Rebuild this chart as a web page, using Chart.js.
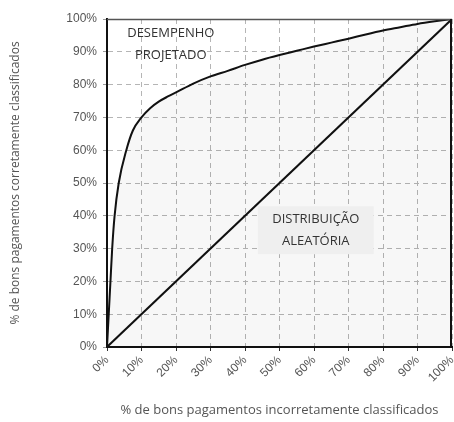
<!doctype html>
<html lang="pt">
  <head>
    <meta charset="UTF-8">
    <title>Curva de desempenho</title>
    <script src="https://cdn.jsdelivr.net/npm/chart.js@4.4.1/dist/chart.umd.min.js"></script>
    <style>
      html, body { margin: 0; padding: 0; background: #fff; }
      #wrap { width: 454px; height: 422px; }
    </style>
  </head>
  <body>
    <div id="wrap"><canvas id="myChart"></canvas></div>
    <script>
    // Data-----
    const xTicks = [0, 10, 20, 30, 40, 50, 60, 70, 80, 90, 100];
    const curveX = [0, 0.5, 1, 1.5, 2.2, 3.4, 5.6, 7.5, 10, 12.5, 15, 17.5, 20, 25, 30, 35, 40, 45, 50, 55, 60, 65, 70, 75, 80, 85, 90, 95, 100];
    const curveY = [0, 10, 20, 30, 40, 50, 60, 66, 70, 72.8, 74.8, 76.3, 77.6, 80.3, 82.5, 84.2, 86, 87.6, 89, 90.3, 91.6, 92.8, 94, 95.3, 96.5, 97.5, 98.5, 99.3, 100];
    const randomX = [0, 100];
    const randomY = [0, 100];
    // Data-----

    const tickColor = '#555';
    const gridColor = '#b5b5b5';

    // text labels inside the plot, placed in data coordinates
    const notes = [
      { lines: ['DESEMPENHO', 'PROJETADO'], x: 18.5, y: 92.2, bg: null },
      { lines: ['DISTRIBUIÇÃO', 'ALEATÓRIA'], x: 60.5, y: 35.6, bg: '#efefef' }
    ];

    const frame = {
      id: 'frame',
      afterDatasetsDraw(chart) {
        const { ctx, chartArea: a, scales } = chart;
        ctx.save();
        ctx.font = '13px "Open Sans"';
        ctx.textAlign = 'center';
        ctx.textBaseline = 'middle';
        notes.forEach(n => {
          const cx = scales.x.getPixelForValue(n.x);
          const cy = scales.y.getPixelForValue(n.y);
          if (n.bg) {
            ctx.fillStyle = n.bg;
            ctx.fillRect(cx - 58, cy - 24, 116, 48);
          }
          ctx.fillStyle = '#333';
          ctx.fillText(n.lines[0], cx, cy - 11);
          ctx.fillText(n.lines[1], cx, cy + 11);
        });
        // top + right border
        ctx.strokeStyle = '#555';
        ctx.lineWidth = 1.5;
        ctx.beginPath();
        ctx.moveTo(a.left, a.top + 0.5);
        ctx.lineTo(a.right, a.top + 0.5);
        ctx.stroke();
        ctx.strokeStyle = '#111';
        ctx.lineWidth = 2;
        ctx.beginPath();
        ctx.moveTo(a.right - 1, a.top);
        ctx.lineTo(a.right - 1, a.bottom);
        ctx.stroke();
        ctx.restore();
      }
    };

    const config = {
      type: 'line',
      data: {
        datasets: [{
          label: 'Desempenho projetado',
          data: curveX.map((v, i) => ({ x: v, y: curveY[i] })),
          borderColor: '#111',
          borderWidth: 2,
          pointRadius: 0,
          cubicInterpolationMode: 'monotone',
          fill: 'origin',
          backgroundColor: 'rgba(0,0,0,0.03)'
        },
        {
          label: 'Distribuição aleatória',
          data: randomX.map((v, i) => ({ x: v, y: randomY[i] })),
          borderColor: '#111',
          borderWidth: 2,
          pointRadius: 0,
          fill: false
        }]
      },
      options: {
        animation: false,
        responsive: true,
        maintainAspectRatio: false,
        layout: { padding: { top: 19, right: 2, bottom: 4, left: 0 } },
        plugins: {
          legend: { display: false },
          tooltip: { enabled: false }
        },
        scales: {
          x: {
            type: 'linear',
            min: 0,
            max: 100,
            afterBuildTicks: (s) => { s.ticks = xTicks.map(v => ({ value: v })); },
            afterFit: (s) => { s.height = 71; s.paddingRight = 0; s.paddingLeft = 0; },
            ticks: {
              color: tickColor,
              font: { family: 'Arial', size: 12 },
              maxRotation: 45,
              minRotation: 45,
              padding: 2,
              callback: (v) => v + '%'
            },
            grid: {
              color: gridColor,
              tickColor: '#333',
              tickLength: 4
            },
            border: { display: true, color: '#111', width: 2, dash: [5, 4] },
            title: {
              display: true,
              text: '% de bons pagamentos incorretamente classificados',
              color: tickColor,
              font: { family: 'Open Sans', size: 13 },
              padding: { top: 0, bottom: 0 }
            }
          },
          y: {
            min: 0,
            max: 100,
            afterFit: (s) => { s.width = 107; },
            ticks: {
              stepSize: 10,
              color: tickColor,
              font: { family: 'Arial', size: 12 },
              padding: 6,
              callback: (v) => v + '%'
            },
            grid: {
              color: gridColor,
              tickColor: '#999',
              tickLength: 4
            },
            border: { display: true, color: '#111', width: 2, dash: [5, 4] },
            title: {
              display: true,
              text: '% de bons pagamentos corretamente classificados',
              color: tickColor,
              font: { family: 'Open Sans', size: 12 },
              padding: { top: 8, bottom: 0 }
            }
          }
        }
      },
      plugins: [frame]
    };

    new Chart(document.getElementById('myChart'), config);
    </script>
  </body>
</html>
